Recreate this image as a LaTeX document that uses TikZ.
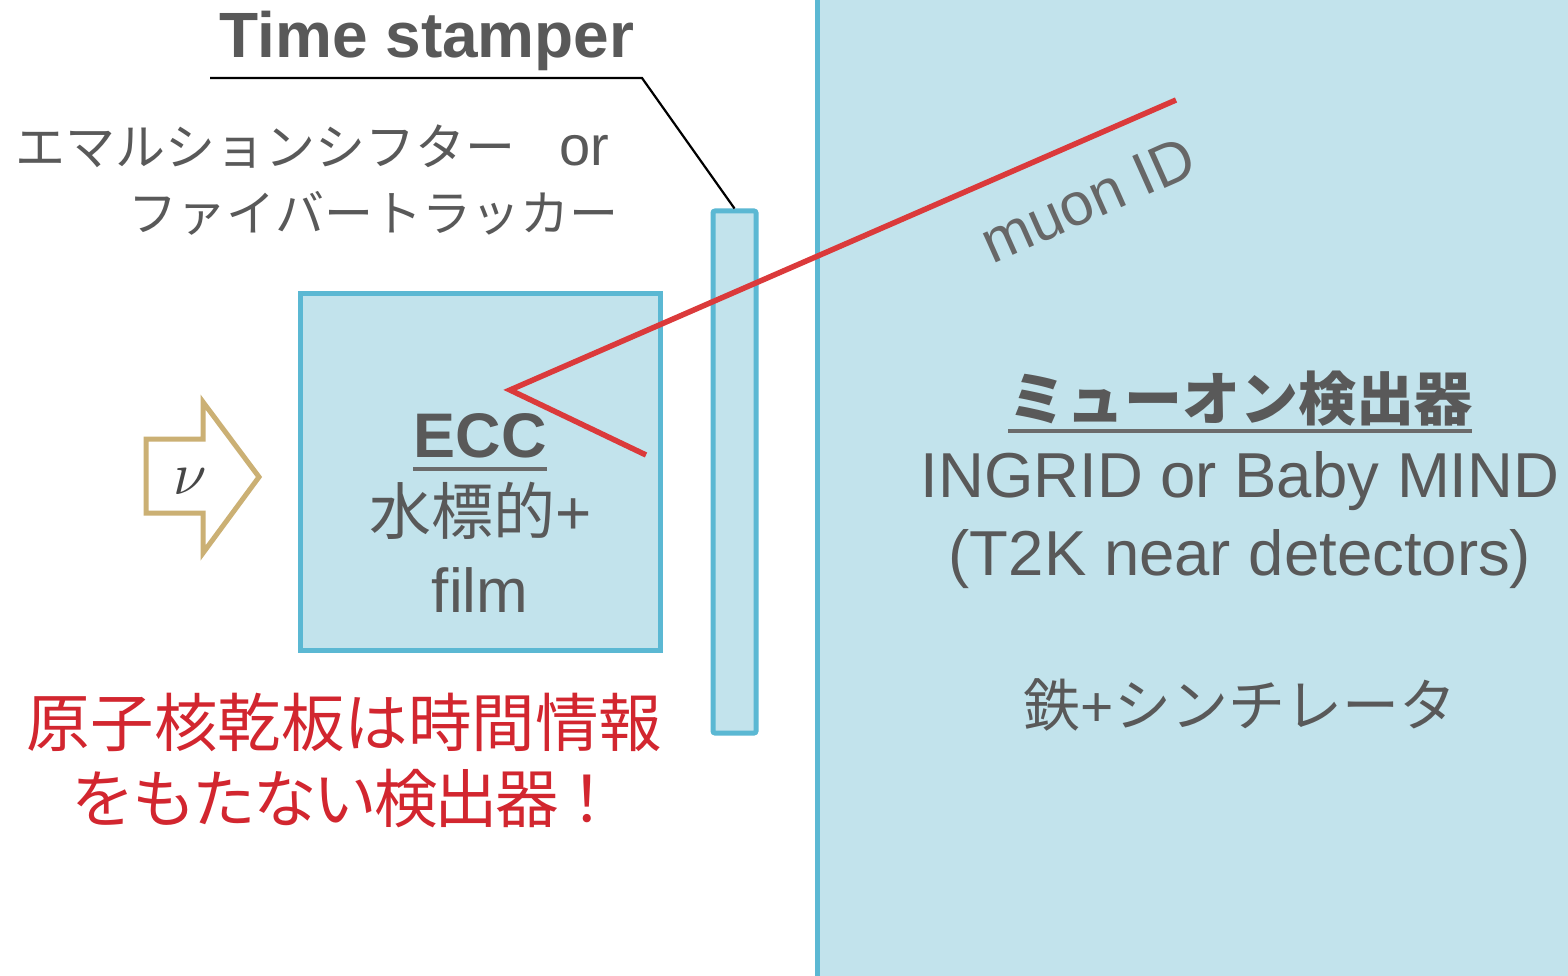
\documentclass[tikz,border=0pt]{standalone}
\usepackage{fontspec}
\setmainfont{Liberation Sans}
\newfontfamily\jp{Noto Sans CJK JP}
\definecolor{tgray}{HTML}{595959}
\definecolor{ulgray}{HTML}{6B6B6B}
\definecolor{mgray}{HTML}{676767}
\definecolor{bfill}{HTML}{C2E3EC}
\definecolor{bline}{HTML}{5BB8D3}
\definecolor{rline}{HTML}{DB3A3B}
\definecolor{rtext}{HTML}{D2262F}
\definecolor{tanc}{HTML}{CBB074}
\newcommand{\fsz}[1]{\fontsize{#1}{#1}\selectfont}
\newcommand{\cbx}[1]{\makebox[60.5pt]{#1}}
\begin{document}
\begin{tikzpicture}[x=1pt,y=-1pt,
  txt/.style={inner sep=0pt,outer sep=0pt,anchor=base,text=tgray},
  boxst/.style={draw=bline,fill=bfill,line width=5pt},
  redline/.style={draw=rline,line width=5.5pt},
  ulst/.style={draw=ulgray,line width=4.5pt},
  leader/.style={draw=black,line width=2.2pt}]
\useasboundingbox (0,0) rectangle (1568,976);
\fill[white] (0,0) rectangle (1568,976);
% muon detector region
\draw[boxst] (817.5,-20) rectangle (1600,1000);
% ECC box
\node[boxst, minimum width=360pt, minimum height=357pt, inner sep=0pt] (ecc box) at (480,471.5) {};
% time stamper bar
\node[boxst, rounded corners=2pt, minimum width=43pt, minimum height=522pt, inner sep=0pt] (bar) at (734.5,472) {};
% leader
\coordinate (lead0) at (210,78);
\coordinate (lead1) at (642,78);
\draw[leader] (lead0) -- (lead1) -- (bar.north);
% neutrino arrow
\draw[draw=tanc, fill=white, line width=5pt, line join=miter]
  (146,439) -- (203,439) -- (203,402) -- (259,477) -- (203,553) -- (203,513) -- (146,513) -- cycle;
\node[inner sep=0pt, text=tgray!80!black, scale=6] (nu) at (190,482) {$\nu$};
% muon track
\coordinate (mv) at (510,390);
\coordinate (m1) at (1176,100);
\coordinate (m2) at (646,455);
\draw[redline, line join=miter] (m1) -- (mv) -- (m2);
% texts
\node[txt] (ts) at (427,58) {\fsz{64}\bfseries Time stamper};
\node[txt, anchor=base west] (es) at (15,166) {{\jp\fsz{50}エマルションシフター}\hspace{44pt}{\fsz{56}or}};
\node[txt, anchor=base east] (ft) at (618,232) {\jp\fsz{49}ファイバートラッカー};
\node[txt] (ecc) at (480,457) {\fsz{63}\bfseries ECC};
\draw[ulst] ([yshift=-12pt]ecc.base west) -- ([yshift=-12pt]ecc.base east);
\node[txt] (wt) at (481,534) {{\jp\fsz{62}水標的}{\fsz{62}+}};
\node[txt] (film) at (480,612) {\fsz{62}film};
\node[txt, anchor=base west, text=rtext] (r1) at (27,746) {\jp\fsz{63.5}原子核乾板は時間情報};
\node[txt, anchor=base west, text=rtext] (r2) at (73,822) {\jp\fsz{63.5}\cbx{を}\cbx{も}\cbx{た}\cbx{な}\cbx{い}\cbx{検}\cbx{出}\cbx{器}\cbx{！}};
\node[txt] (mu) at (1240,420) {\jp\fsz{58}\bfseries ミューオン検出器};
\draw[ulst] ([yshift=-11pt]mu.base west) -- ([yshift=-11pt]mu.base east);
\node[txt] (ing) at (1240,497) {\fsz{63.5}INGRID or Baby MIND};
\node[txt] (t2k) at (1240,575) {\fsz{63.5}(T2K near detectors)};
\node[txt] (fe) at (1240,726) {{\jp\fsz{57}鉄}{\fsz{57}+}{\jp\fsz{57}シンチレータ}};
\node[txt, text=mgray, anchor=center, rotate=24] (mid) at (1088,200) {\fsz{60}muon ID};
\end{tikzpicture}
\end{document}
